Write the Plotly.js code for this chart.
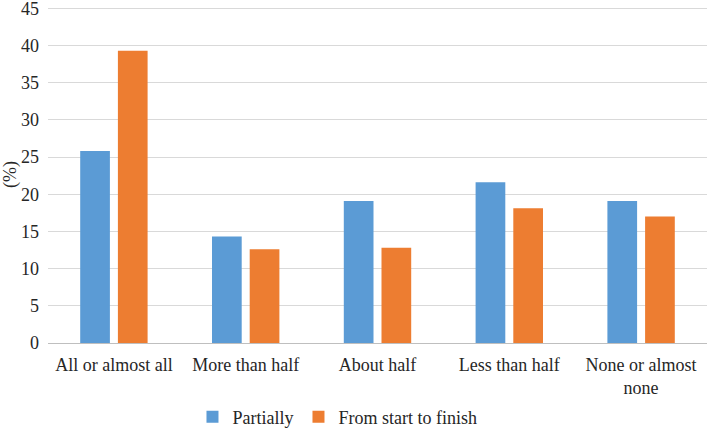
<!DOCTYPE html>
<html>
<head>
<meta charset="utf-8">
<script src="https://cdn.plot.ly/plotly-3.0.1.min.js"></script>
<style>html,body{margin:0;padding:0;background:#fff;}#chart{width:709px;height:430px;}</style>
</head>
<body>
<div id="chart"></div>
<script>
const categories = ["All or almost all", "More than half", "About half", "Less than half", "None or almost<br>none"];
const partially = [25.8, 14.3, 19.1, 21.6, 19.1];
const startToFinish = [39.3, 12.6, 12.8, 18.1, 17.0];
const tickValues = [0, 5, 10, 15, 20, 25, 30, 35, 40, 45];

const font = {family: "Liberation Serif, Times New Roman, serif", size: 18, color: "#262626"};

const data = [
  {type: "bar", name: "Partially", x: categories, y: partially, marker: {color: "#5B9BD5"}},
  {type: "bar", name: "From start to finish", x: categories, y: startToFinish, marker: {color: "#ED7D31"}}
];

const layout = {
  width: 709, height: 430,
  margin: {l: 48, r: 2, t: 6, b: 87},
  paper_bgcolor: "#fff", plot_bgcolor: "#fff",
  font: font,
  barmode: "group",
  bargap: 0.428,
  bargroupgap: 0.212,
  showlegend: true,
  legend: {orientation: "h", xref: "container", yref: "container", x: 0.476, xanchor: "center", y: 0.03, yanchor: "middle", font: font, itemwidth: 30},
  xaxis: {
    showgrid: false, showline: true, linecolor: "#BFBFBF", linewidth: 1,
    ticks: "", tickfont: font, ticklabelstandoff: 5, automargin: false
  },
  yaxis: {
    range: [0, 45.3], tickvals: tickValues, ticktext: tickValues.map(String),
    showgrid: true, gridcolor: "#D9D9D9", gridwidth: 1, zeroline: false,
    showline: false, ticks: "", tickfont: font, ticklabelstandoff: 8,
    ticklabeloverflow: "allow",
    title: {text: "(%)", font: font, standoff: 8}, automargin: false
  }
};

Plotly.newPlot("chart", data, layout, {staticPlot: true, displayModeBar: false});
</script>
</body>
</html>
